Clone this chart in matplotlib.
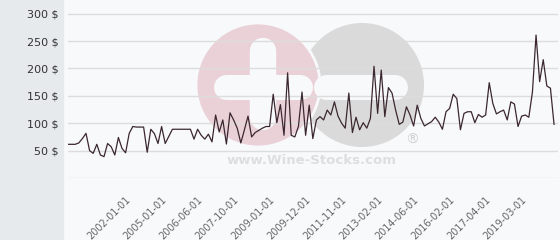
import numpy as np
import matplotlib
matplotlib.use("Agg")
import matplotlib.pyplot as plt
from matplotlib.patches import Circle, Rectangle

# Precio por observacion (USD)
prices = [61.5, 61.5, 61.5, 64, 72, 81.5, 50, 45, 61.5, 42,
          39, 63, 57, 42, 74, 54, 46, 81.5, 94, 93,
          93, 93, 47, 89, 81, 63, 94, 63, 76, 89,
          89, 89, 89, 89, 89, 71, 89, 78, 71, 80,
          66, 115, 84, 106, 62, 119, 106, 91, 64, 88,
          113, 75, 83, 87, 91, 94, 94, 153, 101, 134,
          78, 192, 78, 75, 94, 157, 78, 133, 72, 106,
          112, 106, 124, 115, 139, 113, 100, 91, 155, 83,
          111, 88, 101, 91, 109, 204, 118, 197, 112, 165,
          155, 124, 98, 102, 130, 115, 95, 133, 109, 95,
          99, 103, 111, 102, 89, 121, 127, 153, 145, 88,
          118, 121, 121, 101, 116, 111, 115, 174, 136, 117,
          121, 124, 106, 139, 135, 94, 113, 115, 111, 157,
          261, 176, 216, 168, 164, 98]

tick_labels = ["2002-01-01", "2005-01-01", "2006-06-01", "2007-10-01",
               "2009-01-01", "2009-12-01", "2011-11-01", "2013-02-01",
               "2014-06-01", "2016-02-01", "2017-04-01", "2019-03-01"]
label_start = 16
label_step = 10

y_ticks = [50, 100, 150, 200, 250, 300]

fig = plt.figure(figsize=(5.6, 2.4), dpi=100, facecolor="#f8f9fb")
fig.patches.append(Rectangle((0, 0), 63 / 560, 1, transform=fig.transFigure,
                             color="#e6eaed", zorder=0))

# marca de agua (logo) en coordenadas de pixeles
bg = fig.add_axes([0, 0, 1, 1], zorder=0)
bg.set_xlim(0, 560)
bg.set_ylim(240, 0)
bg.axis("off")
bg.add_patch(Circle((362, 85), 62, color="#dadada", lw=0))
bg.add_patch(Circle((258, 85), 62, facecolor="#ead1d8", edgecolor="#f8f9fb", lw=2))
bg.plot([263, 263], [51, 117], color="#f8f9fb", lw=19, solid_capstyle="round")
bg.plot([226, 300], [87, 87], color="#f8f9fb", lw=18, solid_capstyle="round")
bg.plot([326, 395], [87, 87], color="#f8f9fb", lw=18, solid_capstyle="round")
bg.text(312, 161, "www.Wine-Stocks.com", ha="center", va="center",
        fontsize=9.5, fontweight="bold", color="#dedede")
bg.text(412, 140, "®", ha="center", va="center", fontsize=10, color="#d2d2d2")

ax = fig.add_axes([68 / 560, 62 / 240, 490 / 560, 178 / 240], zorder=1)
ax.patch.set_alpha(0)
x = np.arange(len(prices))
ax.plot(x, prices, color="#3b2730", lw=0.9)

ax.set_xlim(0, 136.1)
ax.set_ylim(0, 325)
ax.set_yticks([0] + y_ticks)
ax.set_yticklabels([""] + [f"{v} $" for v in y_ticks], fontsize=8, color="#333333")
ax.yaxis.grid(True, color="#dcdcdc", lw=1)
ax.set_axisbelow(True)

pos = [label_start + label_step * i for i in range(len(tick_labels))]
ax.set_xticks(pos)
ax.set_xticklabels(tick_labels, rotation=45, ha="right", va="top",
                   rotation_mode="anchor", fontsize=7, color="#666666")
ax.tick_params(axis="x", length=0, pad=12)
ax.tick_params(axis="y", length=0, pad=6.5)
for s in ax.spines.values():
    s.set_visible(False)

fig.savefig("out.png", dpi=100, facecolor=fig.get_facecolor())
